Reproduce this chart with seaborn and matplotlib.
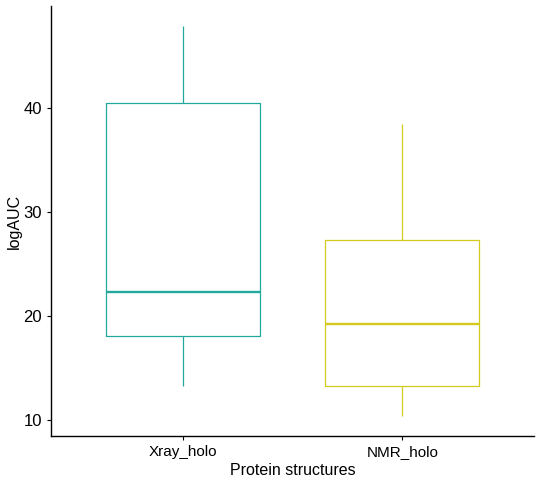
import matplotlib
matplotlib.use("Agg")
import matplotlib.pyplot as plt
import seaborn as sns
import pandas as pd

# Values (min, Q1, median, Q3, max per group)
categories = ["Xray_holo", "NMR_holo"]
xray_values = [13.2, 18.1, 22.3, 40.5, 48.0]
nmr_values = [10.3, 13.2, 19.2, 27.3, 38.5]
colors = ["#23A89E", "#D4CA1E"]
y_ticks = [10, 20, 30, 40]

df = pd.DataFrame({
    "group": [categories[0]] * len(xray_values) + [categories[1]] * len(nmr_values),
    "logAUC": xray_values + nmr_values,
})

sns.set_style("ticks")
plt.rcParams["font.family"] = ["Liberation Sans", "DejaVu Sans"]

fig = plt.figure(figsize=(5.4, 4.84), dpi=100)
ax = fig.add_axes([0.0944, 0.0992, 0.8946, 0.8884])

sns.boxplot(data=df, x="group", y="logAUC", hue="group", order=categories,
            hue_order=categories, palette=colors, fill=False, legend=False,
            width=0.7, linewidth=0.9, showcaps=False, showfliers=False,
            whis=1.5, medianprops={"linewidth": 1.7}, ax=ax)

rng = max(xray_values + nmr_values) - min(xray_values + nmr_values)
ax.set_ylim(min(xray_values + nmr_values) - 0.05 * rng,
            max(xray_values + nmr_values) + 0.05 * rng)
ax.set_xlim(-0.6, 1.6)
ax.set_yticks(y_ticks)
ax.set_xlabel("Protein structures", fontsize=11.5, color="black", labelpad=3)
ax.set_ylabel("logAUC", fontsize=11.5, color="black", labelpad=1)
ax.tick_params(axis="both", labelsize=11, colors="black", length=3, width=0.8)
ax.tick_params(axis="y", labelsize=12)
for s in ["left", "bottom"]:
    ax.spines[s].set_color("black")
    ax.spines[s].set_linewidth(1.0)
sns.despine(ax=ax)

fig.savefig("out.png", dpi=100)
